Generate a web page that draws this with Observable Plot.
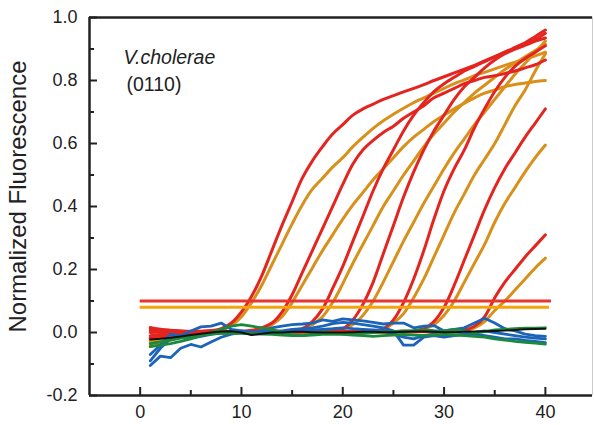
<!DOCTYPE html>
<html><head><meta charset="utf-8">
<script src="https://cdn.jsdelivr.net/npm/d3@7"></script>
<script src="https://cdn.jsdelivr.net/npm/@observablehq/plot@0.6"></script>
<style>html,body{margin:0;padding:0;background:#fff;}</style>
</head><body><div id="chart"></div>
<script>
const cycles = d3.range(1, 41);

const red1 = [0.012,0.009,0.007,0.005,0.004,0.004,0.006,0.012,0.03,0.065, 0.115,0.18,0.26,0.34,0.415,0.49,0.545,0.59,0.63,0.66, 0.69,0.71,0.725,0.74,0.752,0.764,0.775,0.787,0.8,0.812, 0.824,0.836,0.848,0.862,0.876,0.89,0.905,0.92,0.94,0.96];
const red2 = [-0.018,-0.011,-0.006,-0.002,0,0.001,0.002,0.002,0.003,0.004, 0.007,0.015,0.03,0.065,0.12,0.19,0.26,0.33,0.4,0.47, 0.535,0.58,0.61,0.635,0.655,0.68,0.7,0.72,0.745,0.76, 0.775,0.79,0.8,0.81,0.815,0.822,0.83,0.84,0.85,0.865];
const red3 = [0.016,0.01,0.006,0.004,0.003,0.002,0.002,0.001,0.001,0.001, 0.001,0.002,0.002,0.003,0.005,0.012,0.035,0.075,0.14,0.21, 0.29,0.37,0.45,0.52,0.58,0.64,0.69,0.73,0.765,0.79, 0.81,0.83,0.845,0.86,0.875,0.89,0.9,0.912,0.925,0.935];
const red4 = [-0.02,-0.014,-0.009,-0.005,-0.003,-0.001,0,0.001,0.001,0.002, 0.002,0.002,0.002,0.002,0.003,0.003,0.003,0.004,0.006,0.012, 0.04,0.09,0.16,0.25,0.34,0.43,0.51,0.58,0.64,0.69, 0.74,0.78,0.81,0.84,0.865,0.885,0.9,0.915,0.93,0.95];
const red5 = [0,0.001,0.002,0.002,0.003,0.003,0.003,0.003,0.003,0.003, 0.002,0.002,0.002,0.002,0.002,0.002,0.003,0.003,0.003,0.003, 0.003,0.004,0.005,0.012,0.04,0.095,0.17,0.26,0.36,0.45, 0.52,0.58,0.65,0.71,0.765,0.81,0.845,0.87,0.89,0.91];
const red6 = [-0.01,-0.006,-0.003,-0.001,0,0.001,0.001,0.002,0.002,0.002, 0.002,0.002,0.002,0.003,0.003,0.003,0.003,0.003,0.003,0.003, 0.003,0.003,0.003,0.003,0.003,0.004,0.005,0.012,0.035,0.08, 0.15,0.23,0.31,0.39,0.46,0.52,0.57,0.62,0.665,0.71];
const red7 = [0.006,0.004,0.003,0.003,0.002,0.002,0.002,0.002,0.002,0.002, 0.002,0.002,0.002,0.002,0.002,0.002,0.002,0.002,0.002,0.002, 0.002,0.002,0.002,0.002,0.002,0.003,0.003,0.003,0.003,0.003, 0.004,0.008,0.02,0.05,0.11,0.16,0.2,0.24,0.275,0.31];

const orange1 = [-0.035,-0.025,-0.017,-0.011,-0.006,-0.003,0,0.006,0.022,0.05, 0.095,0.15,0.215,0.28,0.345,0.405,0.455,0.49,0.525,0.555, 0.59,0.62,0.648,0.672,0.693,0.712,0.73,0.745,0.76,0.775, 0.79,0.802,0.815,0.826,0.837,0.848,0.858,0.868,0.878,0.89];
const orange2 = [-0.025,-0.017,-0.011,-0.007,-0.004,-0.002,-0.001,0,0,0.001, 0.002,0.01,0.025,0.05,0.095,0.15,0.205,0.26,0.31,0.36, 0.405,0.445,0.485,0.52,0.555,0.59,0.62,0.645,0.67,0.69, 0.71,0.728,0.745,0.76,0.77,0.78,0.787,0.792,0.797,0.8];
const orange3 = [-0.04,-0.03,-0.021,-0.014,-0.009,-0.005,-0.003,-0.002,-0.001,0, 0,0.001,0.001,0.002,0.004,0.01,0.025,0.05,0.095,0.155, 0.22,0.28,0.34,0.4,0.45,0.5,0.545,0.59,0.63,0.665, 0.7,0.73,0.76,0.785,0.81,0.835,0.855,0.875,0.895,0.915];
const orange4 = [-0.015,-0.01,-0.006,-0.003,-0.001,0,0,0.001,0.001,0.001, 0.001,0.001,0.001,0.002,0.002,0.002,0.002,0.003,0.004,0.01, 0.025,0.055,0.1,0.16,0.225,0.29,0.35,0.41,0.465,0.52, 0.57,0.615,0.66,0.7,0.74,0.78,0.82,0.855,0.89,0.925];
const orange5 = [-0.03,-0.02,-0.013,-0.008,-0.004,-0.002,-0.001,0,0,0, 0.001,0.001,0.001,0.001,0.001,0.001,0.002,0.002,0.002,0.002, 0.002,0.002,0.003,0.01,0.03,0.06,0.11,0.17,0.24,0.31, 0.38,0.44,0.5,0.55,0.6,0.66,0.72,0.77,0.83,0.885];
const orange6 = [-0.02,-0.014,-0.009,-0.005,-0.003,-0.001,0,0,0.001,0.001, 0.001,0.001,0.001,0.001,0.001,0.001,0.001,0.001,0.001,0.001, 0.002,0.002,0.002,0.002,0.002,0.002,0.003,0.01,0.025,0.055, 0.1,0.16,0.22,0.28,0.35,0.41,0.46,0.51,0.555,0.595];
const orange7 = [-0.045,-0.033,-0.023,-0.015,-0.009,-0.005,-0.003,-0.002,-0.001,0, 0,0,0.001,0.001,0.001,0.001,0.001,0.001,0.001,0.001, 0.001,0.001,0.001,0.001,0.002,0.002,0.002,0.002,0.002,0.002, 0.003,0.005,0.015,0.035,0.07,0.1,0.135,0.17,0.205,0.236];

const blue1 = [-0.105,-0.075,-0.08,-0.05,-0.038,-0.046,-0.03,-0.015,-0.005,0, -0.005,0,0.005,0.005,0.01,0.012,0.015,0.02,0.028,0.032, 0.03,0.025,0.02,0.015,0.005,-0.04,-0.04,-0.015,-0.01,-0.015, -0.01,-0.005,-0.005,-0.01,-0.015,-0.02,-0.02,-0.025,-0.028,-0.032];
const blue2 = [-0.09,-0.05,-0.02,-0.01,0.005,0.018,0.02,0.03,0.01,0.005, 0,0.005,0.015,0.02,0.025,0.027,0.03,0.04,0.035,0.043, 0.04,0.037,0.032,0.027,0.03,0.03,0.015,0.02,0.022,0.005, 0.01,0.015,0.03,0.045,0.03,0.012,0.005,-0.005,-0.01,-0.012];
const blue3 = [-0.07,-0.04,-0.005,-0.012,-0.018,-0.012,-0.006,0,0.002,0.004, 0.002,0,0,0.002,0.004,0.006,0.008,0.01,0.012,0.015, 0.012,0.01,0.008,0.006,-0.005,-0.015,-0.02,-0.01,-0.005,-0.01, -0.008,-0.005,0,0.005,0,-0.005,-0.01,-0.015,-0.018,-0.02];
const green1 = [-0.045,-0.04,-0.035,-0.028,-0.02,-0.01,0,0.01,0.02,0.025, 0.02,0.015,0.01,0,-0.008,-0.01,-0.005,0,0,-0.005, -0.005,-0.003,0,0.002,0.003,0.005,0.006,0.008,0.006,0.005, 0.01,0.005,-0.002,0.003,0.008,0.01,0.012,0.014,0.014,0.015];
const green2 = [-0.035,-0.03,-0.024,-0.018,-0.012,-0.008,-0.005,-0.003,-0.002,-0.003, -0.004,-0.005,-0.006,-0.008,-0.01,-0.01,-0.008,-0.006,-0.005,-0.006, -0.008,-0.01,-0.012,-0.01,-0.008,-0.006,-0.008,-0.01,-0.008,-0.006, -0.008,-0.01,-0.012,-0.015,-0.02,-0.024,-0.028,-0.031,-0.034,-0.037];
const black1 = [-0.022,-0.02,-0.017,-0.013,-0.008,-0.004,0,0.003,0.004,0, -0.008,-0.004,0,0,0.002,0.002,0.001,0,0,0, 0.001,0.002,0.002,0.001,0.001,0.002,0.003,0.003,0.002,0.001, 0.001,0.002,0.003,0.004,0.005,0.006,0.008,0.01,0.011,0.012];

const redSeries = [red1, red2, red3, red4, red5, red6, red7];
const orangeSeries = [orange1, orange2, orange3, orange4, orange5, orange6, orange7];
const blueSeries = [blue1, blue2, blue3];
const greenSeries = [green1, green2];
const blackSeries = [black1];

const thresholdValues = [0.1, 0.08];
const thresholdStarts = [0, 0];
const thresholdEnds = [40.6, 40.4];
const thresholdColors = ["#e8352f", "#f5a30a"];

const xTicks = [0, 10, 20, 30, 40];
const xMinorTicks = [5, 15, 25, 35];
const yTicks = [-0.2, 0, 0.2, 0.4, 0.6, 0.8, 1.0];
const yMinorTicks = [-0.1, 0.1, 0.3, 0.5, 0.7, 0.9];
const xDomain = [-5, 44.65];
const yDomain = [-0.2, 1.0];

const yTitle = "Normalized Fluorescence";
const organism = "V.cholerae";
const organismCode = "(0110)";

function rows(seriesList, group) {
  const out = [];
  seriesList.forEach((s, i) => s.forEach((v, j) => out.push({cycle: cycles[j], value: v, id: group + i})));
  return out;
}
const thresholds = thresholdValues.map((v, i) => ({value: v, start: thresholdStarts[i], end: thresholdEnds[i], color: thresholdColors[i]}));

const W = 594, H = 425, ML = 89, MR = 2, MT = 17, MB = 30;
const ink = "#222";

const chart = Plot.plot({
  width: W, height: H,
  marginLeft: ML, marginRight: MR, marginTop: MT, marginBottom: MB,
  style: {fontFamily: "'Liberation Sans', Arial, sans-serif", fontSize: "18px", background: "#fff", color: ink},
  x: {domain: xDomain},
  y: {domain: yDomain},
  color: {type: "identity"},
  marks: [
    Plot.line(rows(orangeSeries, "o"), {x: "cycle", y: "value", z: "id", stroke: "#d8901a", strokeWidth: 3, curve: "catmull-rom"}),
    Plot.line(rows(redSeries, "r"), {x: "cycle", y: "value", z: "id", stroke: "#e4241f", strokeWidth: 3, curve: "catmull-rom"}),
    Plot.line(rows(blueSeries, "b"), {x: "cycle", y: "value", z: "id", stroke: "#1c64b8", strokeWidth: 2.8}),
    Plot.line(rows(greenSeries, "g"), {x: "cycle", y: "value", z: "id", stroke: "#1b8a3c", strokeWidth: 2.8}),
    Plot.line(rows(blackSeries, "k"), {x: "cycle", y: "value", z: "id", stroke: "#111", strokeWidth: 2}),
    Plot.ruleY(thresholds, {y: "value", x1: "start", x2: "end", stroke: "color", strokeWidth: 3}),
    // frame
    Plot.ruleX([xDomain[0]], {stroke: ink, strokeWidth: 2.5}),
    Plot.ruleX([xDomain[1]], {stroke: "#ccc", strokeWidth: 1}),
    Plot.ruleY([yDomain[0]], {stroke: ink, strokeWidth: 2.5}),
    Plot.ruleY([yDomain[1]], {stroke: ink, strokeWidth: 2.5}),
    // inward ticks (negative tick size) and labels
    Plot.axisX(xTicks, {tickSize: -8, tickPadding: 18, strokeWidth: 2, stroke: ink, tickFormat: d => String(d), fontSize: 18, label: null}),
    Plot.axisX(xMinorTicks, {tickSize: -5, strokeWidth: 2, stroke: ink, tickFormat: () => "", label: null}),
    Plot.axisY(yTicks, {tickSize: -8, tickPadding: 20, strokeWidth: 2, stroke: ink, tickFormat: d => d.toFixed(1), fontSize: 18, label: null}),
    Plot.axisY(yMinorTicks, {tickSize: -5, strokeWidth: 2, stroke: ink, tickFormat: () => "", label: null}),
    Plot.text([yTitle], {frameAnchor: "left", rotate: -90, dx: -71, dy: -10, fontSize: 24, textAnchor: "middle", lineAnchor: "middle", fill: ink}),
    Plot.text([organism], {frameAnchor: "top-left", dx: 34, dy: 40, fontSize: 19.5, fontStyle: "italic", textAnchor: "start", lineAnchor: "middle", fill: ink}),
    Plot.text([organismCode], {frameAnchor: "top-left", dx: 37, dy: 67, fontSize: 19.5, textAnchor: "start", lineAnchor: "middle", fill: ink})
  ]
});
document.getElementById("chart").appendChild(chart);
</script>
</body></html>
